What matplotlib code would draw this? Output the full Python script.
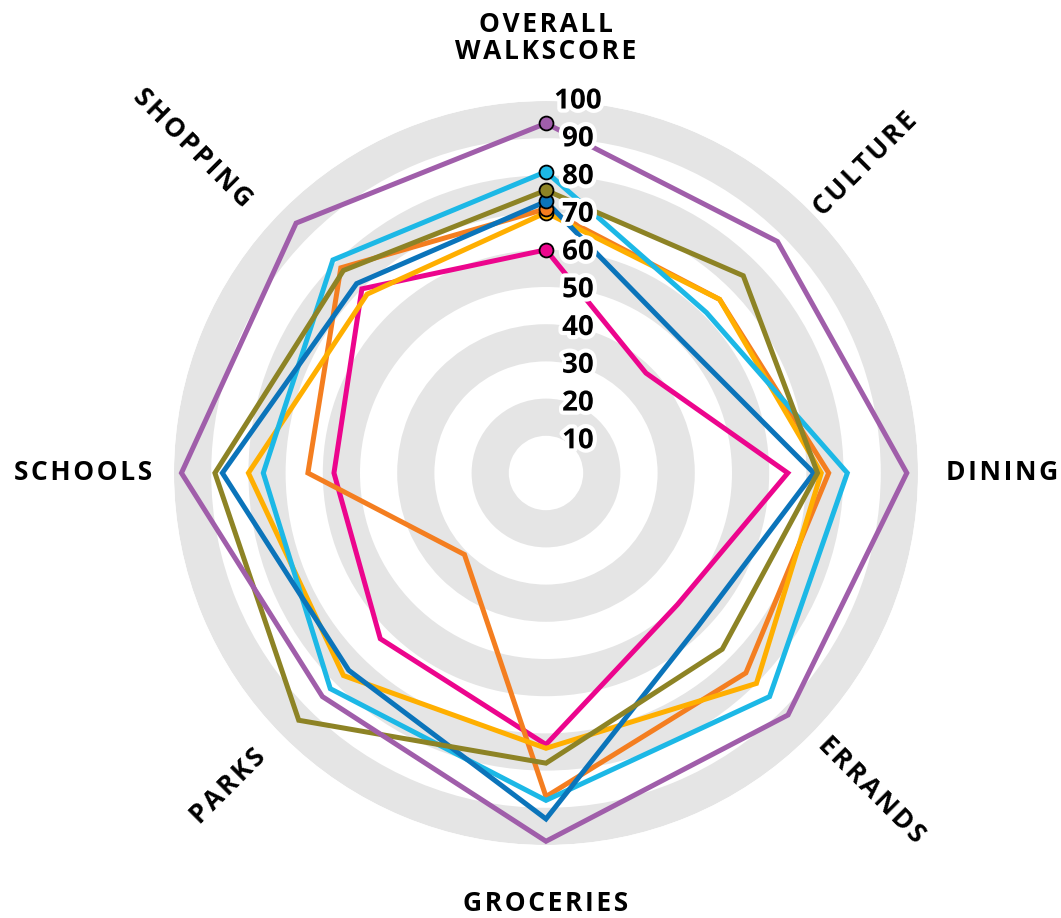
import numpy as np
import matplotlib
matplotlib.use('Agg')
import matplotlib.pyplot as plt
import matplotlib.patheffects as pe

plt.rcParams['font.family'] = ['Open Sans', 'DejaVu Sans']
plt.rcParams['font.weight'] = 'bold'

# axes, clockwise from the top
categories = ['OVERALL\nWALKSCORE', 'CULTURE', 'DINING', 'ERRANDS',
              'GROCERIES', 'PARKS', 'SCHOOLS', 'SHOPPING']

purple = [94, 88, 97, 92, 99, 85, 98, 95]
cyan = [81, 61, 81, 85, 88, 82, 76, 81]
olive = [76, 75, 73, 67, 78, 94, 89, 77]
blue = [73, 51, 72, 58, 93, 75, 87, 72]
orange = [71, 66, 76, 76, 87, 31, 64, 78]
yellow = [70, 66, 74, 80, 74, 77, 80, 68]
magenta = [60, 38, 65, 50, 73, 63, 57, 70]

ring_ticks = [10, 20, 30, 40, 50, 60, 70, 80, 90, 100]

series = [
    (magenta, '#EC058D'),
    (orange, '#F47E20'),
    (yellow, '#FFAF00'),
    (cyan, '#1CB8E6'),
    (blue, '#0B74BA'),
    (olive, '#8D8325'),
    (purple, '#A05EAA'),
]
# stacking of the dots on the top axis
marker_order = [(yellow, '#FFAF00'), (orange, '#F47E20'), (blue, '#0B74BA'),
                (olive, '#8D8325'), (cyan, '#1CB8E6'), (purple, '#A05EAA'),
                (magenta, '#EC058D')]


def tracked(s):
    # widen letter spacing with hair spaces
    return '\n'.join('\u200a'.join(line) for line in s.split('\n'))


n = len(categories)
theta = np.linspace(0, 2 * np.pi, n, endpoint=False)

fig = plt.figure(figsize=(10.61, 9.18), dpi=100)
ax = fig.add_axes([0.164, 0.0795, 0.7012, 0.8105], projection='polar')
ax.set_theta_zero_location('N')
ax.set_theta_direction(-1)
ax.set_ylim(0, 100)
ax.grid(False)
ax.set_xticks([])
ax.set_yticks([])
ax.spines['polar'].set_visible(False)
ax.patch.set_alpha(0)

# grey bands
for b in [10, 30, 50, 70, 90]:
    ax.bar(0, 10, width=2 * np.pi, bottom=b, color='#E5E5E5',
           edgecolor='none', align='edge', zorder=1)

for i, (vals, col) in enumerate(series):
    v = vals + vals[:1]
    t = np.append(theta, theta[0])
    ax.plot(t, v, color=col, lw=3.6, solid_joinstyle='miter', zorder=3 + i)

for i, (vals, col) in enumerate(marker_order):
    ax.plot(theta[0], vals[0], 'o', ms=10, mfc=col, mec='black', mew=1.3,
            zorder=20 + i)

# ring values up the top axis
for v in ring_ticks:
    ax.annotate(str(v), xy=(0, v * 1.015 - 1.5), xytext=(23, 0),
                textcoords='offset points', ha='center', va='center',
                fontsize=20, fontweight='bold', color='black', zorder=30,
                path_effects=[pe.withStroke(linewidth=6, foreground='white')])

# category labels: (radius, angle in degrees, rotation)
label_pos = [(117, 0, 0), (119.5, 46, 45), (122.6, 90, 0), (122, 134.2, -45),
             (115.6, 180, 0), (120, 225.4, 45), (124.5, 270, 0), (129, 312.6, -45)]
for lab, (r, ang, rot) in zip(categories, label_pos):
    ax.text(np.deg2rad(ang), r, tracked(lab), ha='center', va='center',
            rotation=rot, rotation_mode='anchor', fontsize=19,
            fontweight='bold', linespacing=1.0, clip_on=False)

fig.savefig('out.png', dpi=100)
